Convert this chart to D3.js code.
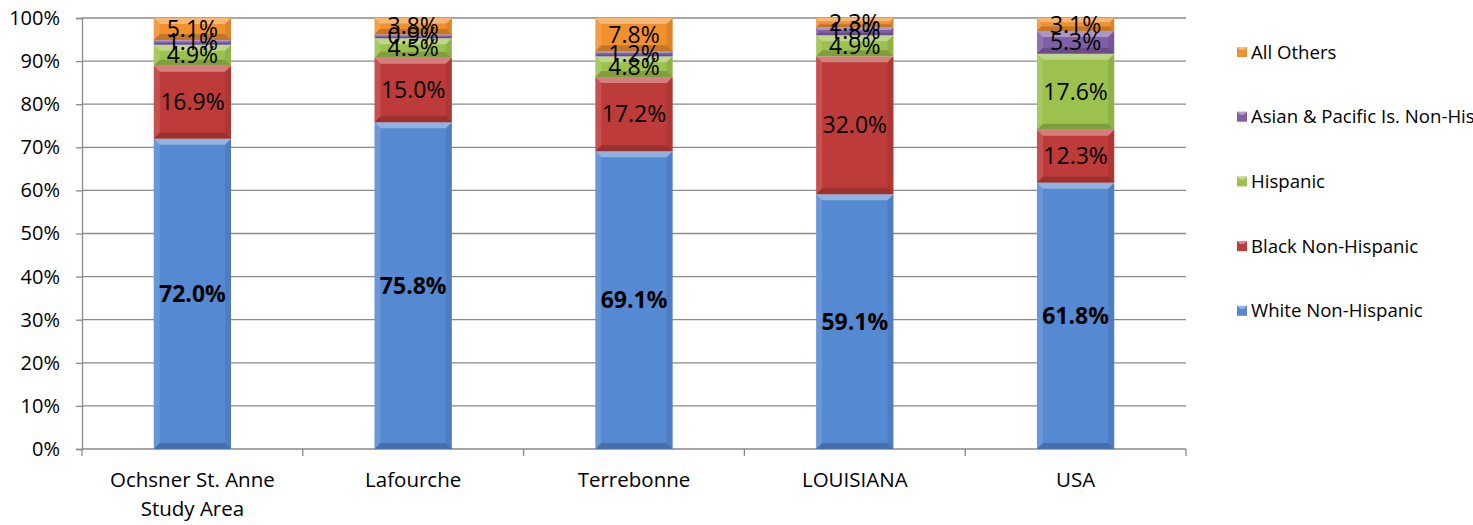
<!DOCTYPE html>
<html>
<head>
<meta charset="utf-8">
<script src="https://cdn.jsdelivr.net/npm/d3@7"></script>
<style>
  body { margin: 0; background: #fff; }
  text { font-family: "Open Sans", sans-serif; fill: #000; }
</style>
</head>
<body>
<script>
// chart data
const categories = [["Ochsner St. Anne", "Study Area"], ["Lafourche"], ["Terrebonne"], ["LOUISIANA"], ["USA"]];
const seriesNames = ["White Non-Hispanic", "Black Non-Hispanic", "Hispanic", "Asian & Pacific Is. Non-Hispanic", "All Others"];
const white = [72.0, 75.8, 69.1, 59.1, 61.8];
const black = [16.9, 15.0, 17.2, 32.0, 12.3];
const hispanic = [4.9, 4.5, 4.8, 4.9, 17.6];
const asian = [1.1, 0.9, 1.2, 1.8, 5.3];
const others = [5.1, 3.8, 7.8, 2.3, 3.1];
const yTicks = [0, 10, 20, 30, 40, 50, 60, 70, 80, 90, 100];
const colors = ["#5589d2", "#bd3b38", "#9cc14c", "#7f5fa6", "#f0912e"];

function init() {
  const W = 1473, H = 525;
  const svg = d3.select("body").append("svg")
    .attr("width", W)
    .attr("height", H);

  const left = 82, right = 1186, top = 18, bottom = 449;

  const x = d3.scaleBand()
    .domain(d3.range(categories.length))
    .range([left, right])
    .paddingInner(0.65)
    .paddingOuter(0.325);

  const y = d3.scaleLinear()
    .domain([0, 100])
    .range([bottom, top]);

  // grid
  svg.append("g").selectAll("line")
    .data(yTicks.filter(d => d > 0))
    .join("line")
    .attr("x1", left).attr("x2", right)
    .attr("y1", d => y(d)).attr("y2", d => y(d))
    .attr("stroke", "#8a8a8a")
    .attr("stroke-width", 1.3);

  // y axis
  const yAxis = svg.append("g")
    .attr("transform", `translate(${left},0)`)
    .call(d3.axisLeft(y).tickValues(yTicks).tickFormat(d => d + "%").tickSize(6).tickPadding(16));
  yAxis.select(".domain").attr("stroke", "#8a8a8a").attr("stroke-width", 1.3);
  yAxis.selectAll(".tick line").attr("stroke", "#8a8a8a").attr("stroke-width", 1.3);
  yAxis.selectAll("text").style("font-size", "20px").attr("fill", "#000");

  // x axis line + category ticks
  svg.append("line")
    .attr("x1", left).attr("x2", right)
    .attr("y1", bottom).attr("y2", bottom)
    .attr("stroke", "#8a8a8a").attr("stroke-width", 1.3);
  svg.append("g").selectAll("line")
    .data(d3.range(categories.length + 1))
    .join("line")
    .attr("x1", i => left + i * (right - left) / categories.length)
    .attr("x2", i => left + i * (right - left) / categories.length)
    .attr("y1", bottom).attr("y2", bottom + 7)
    .attr("stroke", "#8a8a8a").attr("stroke-width", 1.3);

  // stacked data
  const rows = categories.map((c, i) => ({
    i: i, v: [white[i], black[i], hispanic[i], asian[i], others[i]]
  }));
  const keys = d3.range(seriesNames.length);
  const stack = d3.stack().keys(keys).value((d, k) => d.v[k]);
  const layers = stack(rows);

  // bars with bevel
  const bw = x.bandwidth();
  layers.forEach((layer, k) => {
    const g = svg.append("g");
    layer.forEach(seg => {
      const i = seg.data.i;
      const x0 = x(i), x1 = x0 + bw;
      const y0 = y(Math.min(seg[1], 100)), y1 = y(seg[0]);
      const h = y1 - y0;
      const b = Math.min(6, h / 3);
      g.append("rect")
        .attr("x", x0).attr("y", y0).attr("width", bw).attr("height", h)
        .attr("fill", colors[k]);
      // top bevel
      g.append("path")
        .attr("d", `M${x0},${y0} L${x1},${y0} L${x1 - b},${y0 + b} L${x0 + b},${y0 + b} Z`)
        .attr("fill", "#fff").attr("opacity", 0.35);
      // side bevels
      g.append("path")
        .attr("d", `M${x0},${y0} L${x0 + b},${y0 + b} L${x0 + b},${y1 - b} L${x0},${y1} Z`)
        .attr("fill", "#fff").attr("opacity", 0.12);
      g.append("path")
        .attr("d", `M${x1},${y0} L${x1 - b},${y0 + b} L${x1 - b},${y1 - b} L${x1},${y1} Z`)
        .attr("fill", "#000").attr("opacity", 0.08);
      // bottom bevel
      g.append("path")
        .attr("d", `M${x0},${y1} L${x1},${y1} L${x1 - b},${y1 - b} L${x0 + b},${y1 - b} Z`)
        .attr("fill", "#000").attr("opacity", 0.18);
    });
  });

  // data labels
  layers.forEach((layer, k) => {
    svg.append("g").selectAll("text")
      .data(layer)
      .join("text")
      .attr("x", d => x(d.data.i) + bw / 2)
      .attr("y", d => y((d[0] + Math.min(d[1], 100)) / 2))
      .attr("dy", "0.35em")
      .attr("text-anchor", "middle")
      .style("font-size", "23px")
      .style("font-weight", k === 0 ? "bold" : "normal")
      .text(d => d.data.v[k].toFixed(1) + "%");
  });

  // category labels
  const cat = svg.append("g").selectAll("text")
    .data(categories)
    .join("text")
    .attr("x", (d, i) => x(i) + bw / 2)
    .attr("y", 487)
    .attr("text-anchor", "middle")
    .style("font-size", "20.5px");
  cat.selectAll("tspan")
    .data(d => d)
    .join("tspan")
    .attr("x", function() { return d3.select(this.parentNode).attr("x"); })
    .attr("dy", (d, j) => j === 0 ? 0 : 29)
    .text(d => d);

  // legend (top = All Others)
  const legend = svg.append("g");
  const order = keys.slice().reverse();
  order.forEach((k, j) => {
    const ly = 52 + j * 64.7;
    legend.append("rect")
      .attr("x", 1237).attr("y", ly - 5).attr("width", 10).attr("height", 10)
      .attr("fill", colors[k]);
    legend.append("path")
      .attr("d", `M1237,${ly - 5} h10 l-3,3 h-4 Z`)
      .attr("fill", "#fff").attr("opacity", 0.4);
    legend.append("text")
      .attr("x", 1251).attr("y", ly)
      .attr("dy", "0.35em")
      .style("font-size", "18.6px")
      .text(seriesNames[k]);
  });
}
init();
</script>
</body>
</html>
